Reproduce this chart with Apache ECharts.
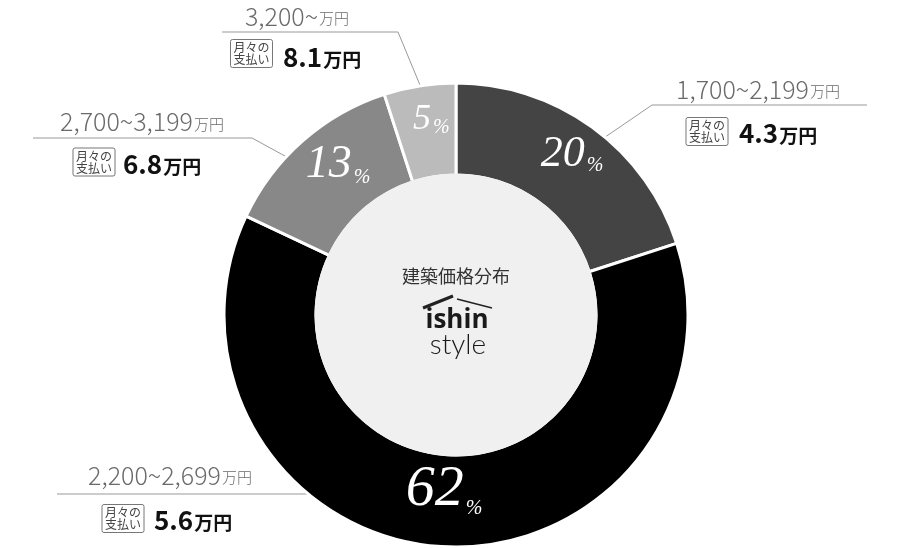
<!DOCTYPE html>
<html><head><meta charset="utf-8">
<script src="https://cdn.jsdelivr.net/npm/echarts@6/dist/echarts.min.js"></script>
<style>html,body{margin:0;padding:0;background:#fff}#c{width:913px;height:548px}</style>
</head><body><div id="c"></div>
<script>
// ---- data ----
const categories = ['1,700~2,199', '2,200~2,699', '2,700~3,199', '3,200~'];
const shares = [20, 62, 13, 5];
const monthlyPayments = ['4.3', '5.6', '6.8', '8.1'];
const unit = '万円';
const boxText = '月々の\n支払い';
const centerTitle = '建築価格分布';

// ---- styles / layout ----
const sliceColors = ['#444444', '#000000', '#888888', '#bbbbbb'];
const pctFontSizes = [44, 58, 46, 36];
const pctShift = [[5, -8], [0, -14], [7, -8], [5, -9]];
const CX = 456, CY = 315, R0 = 140, R1 = 232;
const rangePos = [[758, 87], [170, 473], [142, 119.5], [297, 14]];
const leaderPts = [
  [[595, 144], [652, 105], [867, 105]],
  [[390, 494], [300, 494], [57, 494]],
  [[305, 167], [252, 138], [33, 138]],
  [[427, 102], [398, 32], [222, 32]]
];
const boxPos = [[707, 131.5], [123, 518.5], [94, 162], [251.5, 53.5]];
const valuePos = [[739, 131], [154, 518], [123, 162], [283, 55]];
const JP = '"Noto Sans CJK JP", "Noto Sans", sans-serif';
const SERIF = '"Liberation Serif", "DejaVu Serif", serif';

const sliceData = shares.map((v, i) => ({ value: v, name: categories[i], itemStyle: { color: sliceColors[i] } }));
const ghostData = shares.map((v, i) => ({ value: v, name: categories[i] }));

const pctRich = { p: { fontFamily: SERIF, fontStyle: 'italic', fontSize: 20, color: '#fff', lineHeight: 20, verticalAlign: 'bottom', padding: [0, 0, 0, 2] } };
pctFontSizes.forEach((s, i) => {
  pctRich['n' + i] = { fontFamily: SERIF, fontStyle: 'italic', fontSize: s, color: '#fff', lineHeight: s, verticalAlign: 'bottom' };
});

const ghostBase = {
  type: 'pie', center: [CX, CY], radius: [R0, R1], startAngle: 90, silent: true,
  avoidLabelOverlap: false, emphasis: { disabled: true },
  itemStyle: { color: 'rgba(0,0,0,0)', borderWidth: 0 },
  data: ghostData
};

const option = {
  animation: false,
  backgroundColor: '#fff',
  series: [
    {
      type: 'pie', center: [CX, CY], radius: [R0, R1], startAngle: 90, silent: true,
      avoidLabelOverlap: false, emphasis: { disabled: true },
      itemStyle: { borderColor: '#fff', borderWidth: 3 },
      data: sliceData,
      label: {
        show: true, position: 'inside',
        formatter: p => `{n${p.dataIndex}|${shares[p.dataIndex]}}{p|%}`,
        rich: pctRich
      },
      labelLine: { show: false },
      labelLayout: p => ({ dx: pctShift[p.dataIndex][0], dy: pctShift[p.dataIndex][1] })
    },
    {
      type: 'pie', center: [CX, CY], radius: [0, R0 + 1.5], silent: true,
      emphasis: { disabled: true }, label: { show: false }, labelLine: { show: false },
      data: [{ value: 1, itemStyle: { color: '#f0f0f0' } }]
    },
    Object.assign({}, ghostBase, {
      label: {
        show: true, position: 'outside',
        formatter: p => `{r|${categories[p.dataIndex]}}{u|${unit}}`,
        rich: {
          r: { fontFamily: JP, fontWeight: 300, fontSize: 25, color: '#6a6a6a', lineHeight: 30, verticalAlign: 'bottom' },
          u: { fontFamily: JP, fontWeight: 300, fontSize: 15, color: '#6a6a6a', lineHeight: 30, verticalAlign: 'bottom', padding: [0, 0, 3, 1] }
        }
      },
      labelLine: { show: true, smooth: false, lineStyle: { color: '#999', width: 1 } },
      labelLayout: p => ({ x: rangePos[p.dataIndex][0], y: rangePos[p.dataIndex][1], align: 'center', verticalAlign: 'middle', labelLinePoints: leaderPts[p.dataIndex] })
    }),
    Object.assign({}, ghostBase, {
      label: {
        show: true, position: 'outside', formatter: () => boxText,
        fontFamily: JP, fontSize: 12, lineHeight: 12, color: '#444',
        borderColor: '#777', borderWidth: 1, borderRadius: 2, padding: [2, 3, 2, 3]
      },
      labelLine: { show: false },
      labelLayout: p => ({ x: boxPos[p.dataIndex][0], y: boxPos[p.dataIndex][1], align: 'center', verticalAlign: 'middle' })
    }),
    Object.assign({}, ghostBase, {
      label: {
        show: true, position: 'outside',
        formatter: p => `{v|${monthlyPayments[p.dataIndex]}}{u|${unit}}`,
        rich: {
          v: { fontFamily: JP, fontWeight: 'bold', fontSize: 26, color: '#111', lineHeight: 30, verticalAlign: 'bottom' },
          u: { fontFamily: JP, fontWeight: 'bold', fontSize: 19, color: '#111', lineHeight: 30, verticalAlign: 'bottom', padding: [0, 0, 1, 1] }
        }
      },
      labelLine: { show: false },
      labelLayout: p => ({ x: valuePos[p.dataIndex][0], y: valuePos[p.dataIndex][1], align: 'left', verticalAlign: 'middle' })
    })
  ],
  graphic: [
    { type: 'text', x: CX, y: 276, z: 100, style: { text: centerTitle, font: '18px ' + JP, fill: '#333', align: 'center', verticalAlign: 'middle' } },
    { type: 'polyline', z: 100, shape: { points: [[423, 308], [453, 296]] }, style: { stroke: '#222', lineWidth: 3 } },
    { type: 'polyline', z: 100, shape: { points: [[457, 299], [492, 308]] }, style: { stroke: '#222', lineWidth: 1.5 } },
    { type: 'text', x: 457, y: 321, z: 100, style: { text: 'ishin', font: 'bold 26px "Open Sans", sans-serif', fill: '#1a1a1a', align: 'center', verticalAlign: 'middle' } },
    { type: 'text', x: 458, y: 345, z: 100, style: { text: 'style', font: '300 28px Lato, sans-serif', fill: '#1a1a1a', align: 'center', verticalAlign: 'middle' } }
  ]
};

const chart = echarts.init(document.getElementById('c'), null, { renderer: 'canvas' });
chart.setOption(option);
</script>
</body></html>
